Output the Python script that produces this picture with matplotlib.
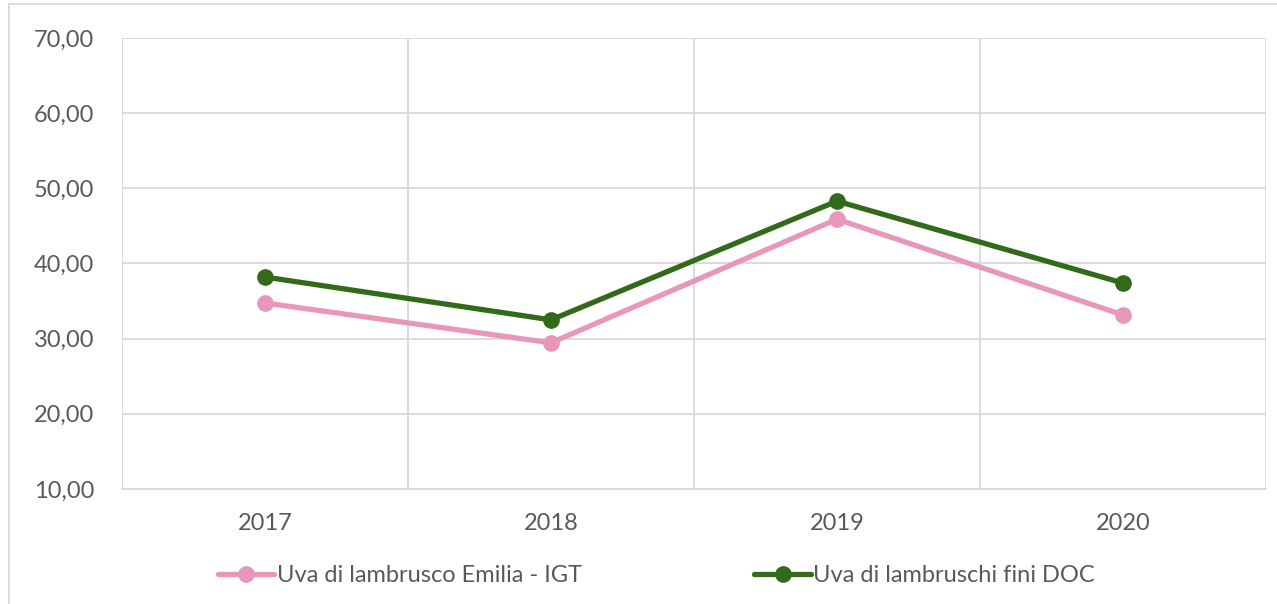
import matplotlib.pyplot as plt
import matplotlib.patches as patches
from matplotlib.ticker import FixedLocator

plt.rcParams['font.family'] = ['Lato', 'DejaVu Sans']

years = ['2017', '2018', '2019', '2020']
igt = [34.75, 29.45, 45.9, 33.15]
doc = [38.2, 32.5, 48.3, 37.4]
names = ['Uva di lambrusco Emilia - IGT', 'Uva di lambruschi fini DOC']
yticks = [10, 20, 30, 40, 50, 60, 70]

text_col = '#595959'
grid_col = '#d9d9d9'
fsize = 17

fig = plt.figure(figsize=(12.77, 6.04), dpi=100)
ax = fig.add_axes([122/1277, 1 - 489/604, (1266 - 122)/1277, (489 - 38)/604])

x = list(range(len(years)))
ax.plot(x, igt, color='#e897bb', lw=3.8, marker='o', ms=11, label=names[0], solid_capstyle='round')
ax.plot(x, doc, color='#336a1a', lw=3.8, marker='o', ms=11, label=names[1], solid_capstyle='round')

ax.set_xlim(-0.5, len(years) - 0.5)
ax.set_ylim(10, 70)
ax.set_xticks(x)
ax.set_xticklabels(years)
ax.xaxis.set_minor_locator(FixedLocator([i - 0.5 for i in range(len(years) + 1)]))
ax.set_yticks(yticks)
ax.set_yticklabels([f"{v:.2f}".replace('.', ',') for v in yticks])

ax.grid(True, axis='y', which='major', color=grid_col, lw=1.3)
ax.grid(True, axis='x', which='minor', color=grid_col, lw=1.3)
ax.grid(False, axis='x', which='major')
ax.set_axisbelow(True)
for s in ['top', 'right', 'left']:
    ax.spines[s].set_visible(False)
ax.spines['bottom'].set_color(grid_col)
ax.spines['bottom'].set_linewidth(1.3)
ax.tick_params(axis='both', which='both', length=0, labelsize=fsize, labelcolor=text_col)
ax.tick_params(axis='y', pad=20)
ax.tick_params(axis='x', pad=17)

fig.legend(loc='center', bbox_to_anchor=(0.514, 1 - 576/604), ncol=2, frameon=False,
           fontsize=fsize, labelcolor=text_col, handlelength=2.4, handletextpad=0.1,
           columnspacing=7.3)

# outer chart border
fig.patches.append(patches.Rectangle((9/1277, -0.1), 1.2, 1 - 4/604 + 0.1, transform=fig.transFigure,
                                     fill=False, edgecolor=grid_col, lw=1.3))

fig.savefig('out.png', dpi=100)
